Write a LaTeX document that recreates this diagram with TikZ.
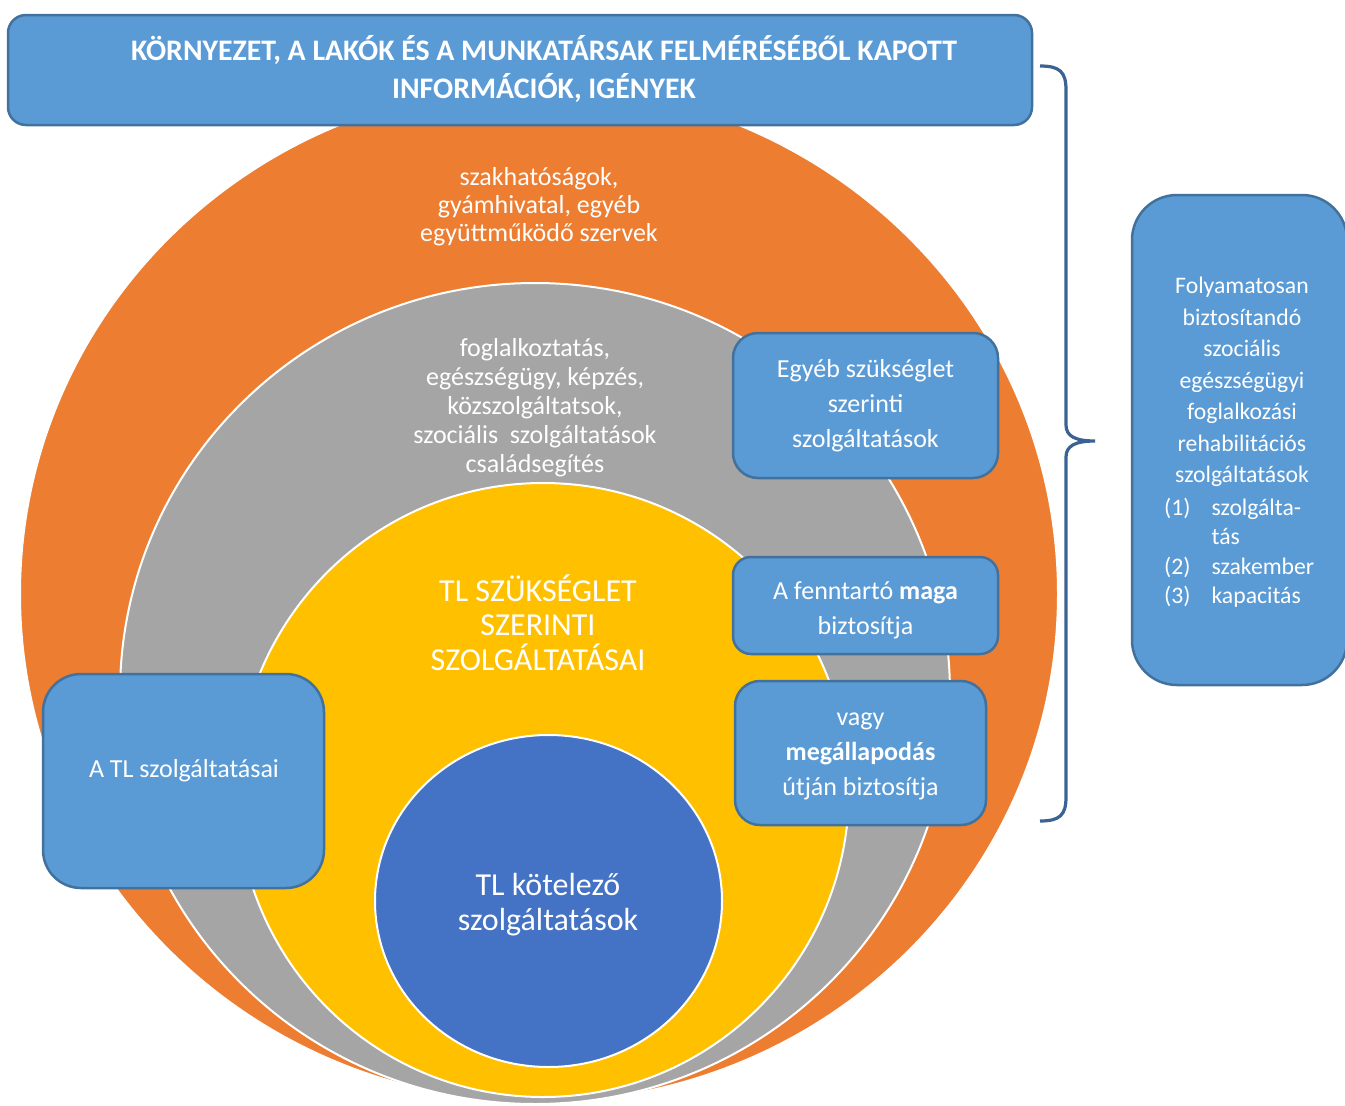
\documentclass[tikz,border=0pt]{standalone}
\usepackage{fontspec}
\setmainfont{Carlito}
\usetikzlibrary{shapes.geometric}
\definecolor{orng}{HTML}{ED7D31}
\definecolor{grayc}{HTML}{A5A5A5}
\definecolor{yell}{HTML}{FFC000}
\definecolor{blueC}{HTML}{4472C4}
\definecolor{boxblue}{HTML}{5B9BD5}
\definecolor{boxedge}{HTML}{41719C}
\definecolor{bracec}{HTML}{3A6394}
\begin{document}
\begin{tikzpicture}[x=1pt,y=-1pt,
  ring/.style={ellipse, draw=white, line width=2pt, inner sep=0pt},
  bbox/.style={rectangle, fill=boxblue, draw=boxedge, line width=2.5pt, inner sep=0pt},
  wtxt/.style={text=white, align=center, inner sep=0pt}
]
\useasboundingbox (0,0) rectangle (1345,1106);
% nested circles
\node[ring, fill=orng, minimum width=1038pt, minimum height=1016pt] (orange) at (539,594) {};
\node[ring, fill=grayc, minimum width=830pt, minimum height=821pt] (gray) at (535,693.5) {};
\node[ring, fill=yell, minimum width=612pt, minimum height=614pt] (yellow) at (543,790) {};
\node[ring, fill=blueC, minimum width=347pt, minimum height=332pt] (blue) at (548.5,901) {};
% circle texts
\node[wtxt, font=\fontsize{26}{28}\selectfont] (torange) at (539,207) {szakhatóságok,\\gyámhivatal, egyéb\\együttműködő szervek};
\node[wtxt, font=\fontsize{26}{29}\selectfont] (tgray) at (535,408) {foglalkoztatás,\\egészségügy, képzés,\\közszolgáltatsok,\\szociális~ szolgáltatások\\családsegítés};
\node[wtxt, font=\fontsize{32}{34.5}\selectfont] (tyellow) at (538,622.5) {TL SZÜKSÉGLET\\SZERINTI\\SZOLGÁLTATÁSAI};
\node[wtxt, font=\fontsize{32}{34.5}\selectfont] (tblue) at (548,904.5) {TL kötelező\\szolgáltatások};
% top box
\node[bbox, rounded corners=18pt, minimum width=1024pt, minimum height=110pt] (top) at (520,70) {};
\node[wtxt, font=\fontsize{29.8}{38}\selectfont\bfseries] (ttop) at (544,68.5) {KÖRNYEZET, A LAKÓK ÉS A MUNKATÁRSAK FELMÉRÉSÉBŐL KAPOTT\\INFORMÁCIÓK, IGÉNYEK};
% side boxes
\node[bbox, rounded corners=25pt, minimum width=265pt, minimum height=145pt, text=white, align=center, font=\fontsize{26}{35}\selectfont] (egyeb) at (865.5,405.5) {Egyéb szükséglet\\szerinti\\szolgáltatások};
\node[bbox, rounded corners=18pt, minimum width=265pt, minimum height=97pt] (maga) at (865.5,605.5) {};
\node[wtxt, font=\fontsize{26}{35}\selectfont] (tmaga) at (865.5,610.5) {A fenntartó \textbf{maga}\\biztosítja};
\node[bbox, rounded corners=25pt, minimum width=251pt, minimum height=144pt] (vagy) at (860.5,753) {};
\node[wtxt, font=\fontsize{26}{35}\selectfont] (tvagy) at (860.5,756) {vagy\\\textbf{megállapodás}\\útján biztosítja};
\node[bbox, rounded corners=38pt, minimum width=281pt, minimum height=214pt] (tl) at (183.5,781) {};
\node[wtxt, font=\fontsize{26}{30}\selectfont] (tltext) at (184,771) {A TL szolgáltatásai};
% right box
\node[bbox, rounded corners=45pt, minimum width=215pt, minimum height=490pt] (right) at (1239.5,440) {};
\node[wtxt, font=\fontsize{23.7}{31.5}\selectfont] (rtext) at (1242,382) {Folyamatosan\\biztosítandó\\szociális\\egészségügyi\\foglalkozási\\rehabilitációs\\szolgáltatások};
\node[text=white, inner sep=0pt, anchor=base west, font=\fontsize{23.7}{29.5}\selectfont] (rlist) at (1164,515) {\begin{tabular}[t]{@{}l@{\hspace{21pt}}l@{}}(1)&szolgálta-\\&tás\\(2)&szakember\\(3)&kapacitás\end{tabular}};
% brace
\coordinate (btop) at (1040,66);
\coordinate (btip) at (1095,441);
\coordinate (bbot) at (1040,821);
\draw[bracec, line width=3.2pt] (btop) .. controls (1060,66) and (1066,72) .. (1066,90) -- (1066,425) .. controls (1066,436) and (1075,441) .. (btip) .. controls (1075,441) and (1066,446) .. (1066,457) -- (1066,797) .. controls (1066,815) and (1060,821) .. (bbot);
\end{tikzpicture}
\end{document}
